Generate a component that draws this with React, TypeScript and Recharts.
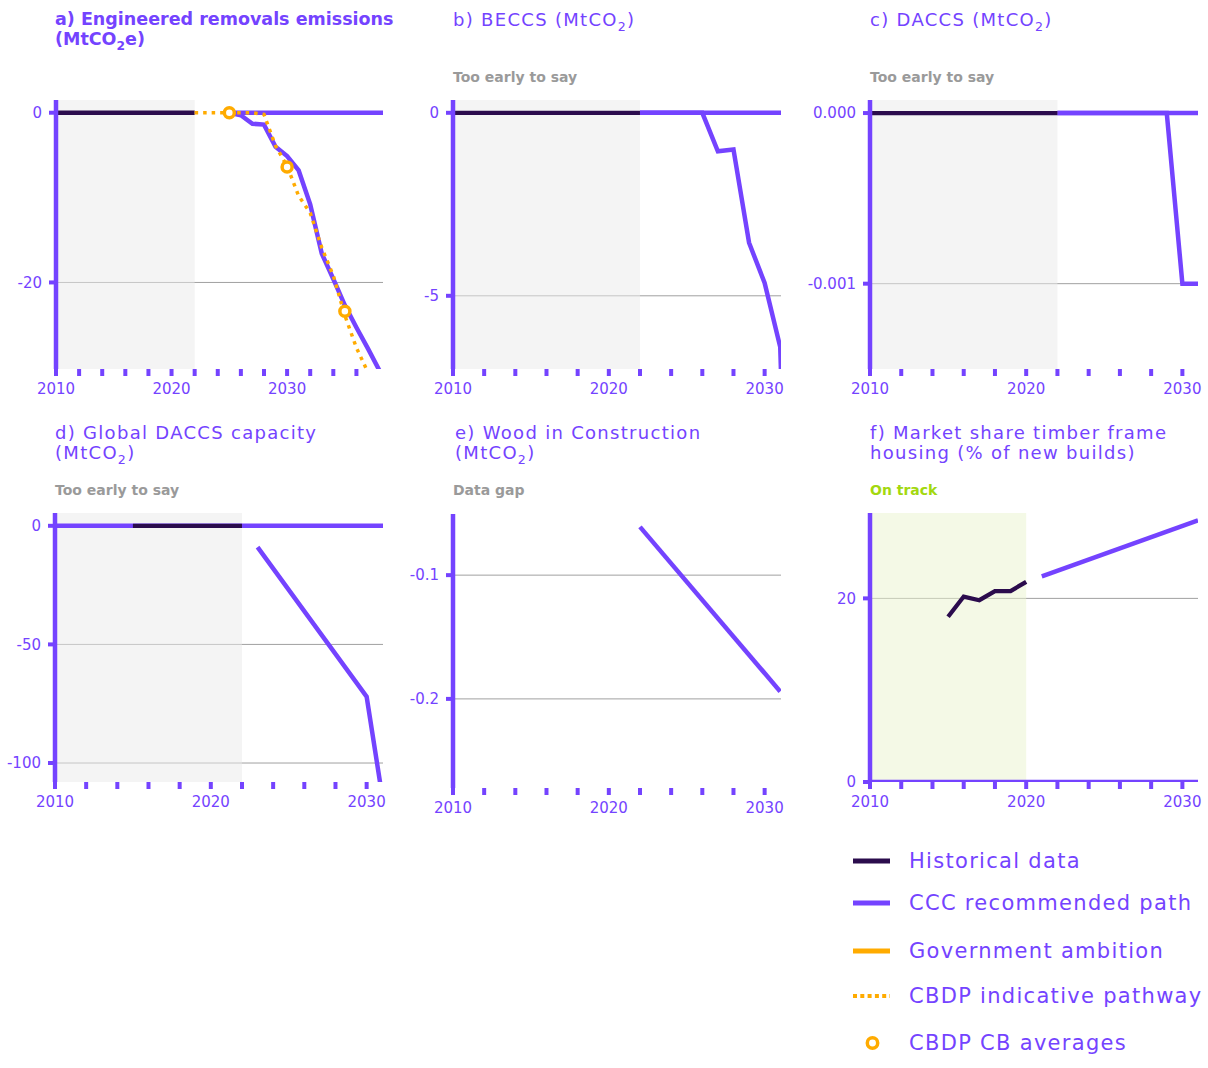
import React from 'react';
import { LineChart, Line, XAxis, YAxis, CartesianGrid, ReferenceArea, ReferenceLine } from 'recharts';

const PURPLE = '#7443ff';
const DARK = '#2b0c4d';
const ORANGE = '#ffab00';
const GREEN = '#a3d80f';
const GREY_TEXT = '#9a9a9a';
const FONT = '"DejaVu Sans", sans-serif';
const Y_W = 72;

type Pt = [number, number];

// a) Engineered removals emissions
const histA: Pt[] = [[2010, 0], [2011, 0], [2012, 0], [2013, 0], [2014, 0], [2015, 0], [2016, 0], [2017, 0], [2018, 0], [2019, 0], [2020, 0], [2021, 0], [2022, 0]];
const cccA: Pt[] = [[2025, 0], [2026, -0.3], [2027, -1.3], [2028, -1.4], [2029, -4], [2030, -5.1], [2031, -6.8], [2032, -10.8], [2033, -16.6], [2034, -19.6], [2035, -22.7], [2036, -25.3], [2037, -27.8], [2038, -30.4]];
const cbdpA: Pt[] = [[2022, 0], [2023, 0], [2024, 0], [2025, 0], [2026, 0], [2027, 0], [2028, -0.2], [2029, -3.9], [2030, -6.3], [2031, -9.8], [2032, -11.8], [2033, -15.9], [2034, -19.2], [2035, -23.9], [2036, -27.7], [2037, -30.6]];
const cbAvgA: Pt[] = [[2025, 0], [2030, -6.4], [2035, -23.4]];

// b) BECCS
const histB: Pt[] = [[2010, 0], [2012, 0], [2014, 0], [2016, 0], [2018, 0], [2020, 0], [2022, 0]];
const cccB: Pt[] = [[2022, 0], [2023, 0], [2024, 0], [2025, 0], [2026, 0], [2027, -1.05], [2028, -1.0], [2029, -3.55], [2030, -4.65], [2031, -6.4], [2032, -20]];

// c) DACCS
const histC: Pt[] = [[2010, 0], [2012, 0], [2014, 0], [2016, 0], [2018, 0], [2020, 0], [2022, 0]];
const cccC: Pt[] = [[2022, 0], [2023, 0], [2024, 0], [2025, 0], [2026, 0], [2027, 0], [2028, 0], [2029, 0], [2030, -0.001], [2031, -0.001]];

// d) Global DACCS capacity
const histD: Pt[] = [[2015, 0], [2016, 0], [2017, 0], [2018, 0], [2019, 0], [2020, 0], [2021, 0], [2022, 0]];
const cccD: Pt[] = [[2023, -9], [2030, -72], [2031, -114]];

// e) Wood in construction
const cccE: Pt[] = [[2022, -0.061], [2031, -0.194]];

// f) Market share timber frame housing
const histF: Pt[] = [[2015, 18], [2016, 20.2], [2017, 19.8], [2018, 20.8], [2019, 20.8], [2020, 21.8]];
const cccF: Pt[] = [[2021, 22.4], [2031, 28.5]];

const ticksTo2030 = [2010, 2012, 2014, 2016, 2018, 2020, 2022, 2024, 2026, 2028, 2030];
const ticksTo2036 = [...ticksTo2030, 2032, 2034, 2036];

function buildRows(series: Record<string, Pt[]>) {
  const map = new Map<number, any>();
  Object.entries(series).forEach(([key, pts]) => {
    pts.forEach(([year, v]) => {
      if (!map.has(year)) map.set(year, { year });
      map.get(year)[key] = v;
    });
  });
  return Array.from(map.values()).sort((a, b) => a.year - b.year);
}

const XTick = (props: any) => {
  const { x, y, payload } = props;
  if (payload.value % 10 !== 0) return <g />;
  return (
    <text x={x} y={y} dy="0.71em" textAnchor="middle" fill={PURPLE} fontSize={15} fontFamily={FONT}>
      {payload.value}
    </text>
  );
};

type PanelProps = {
  left: number; top: number; w: number; h: number;
  xDomain: [number, number]; yDomain: [number, number];
  xTicks: number[]; yTicks: number[];
  yFmt?: (v: number) => string;
  shadeTo?: number; shadeFill?: string;
  zeroFrom?: number;
  series: Record<string, Pt[]>;
};

function Panel(p: PanelProps) {
  const rows = buildRows(p.series);
  const has = (k: string) => k in p.series;
  const gridValues = p.yTicks.filter((v) => v !== 0);
  return (
    <div style={{ position: 'absolute', left: p.left - Y_W, top: p.top - 5 }}>
      <LineChart width={Y_W + p.w + 24} height={5 + p.h + 30} data={rows} margin={{ top: 5, right: 24, bottom: 0, left: 0 }}>
        {p.shadeTo !== undefined && (
          <ReferenceArea x1={p.xDomain[0]} x2={p.shadeTo} fill={p.shadeFill} fillOpacity={0.5} stroke="none" ifOverflow="hidden" />
        )}
        <CartesianGrid horizontal vertical={false} horizontalValues={gridValues} stroke="#a0a0a0" strokeWidth={1} />
        <XAxis
          type="number" dataKey="year" domain={p.xDomain} ticks={p.xTicks} allowDataOverflow
          axisLine={false} tickSize={7} tickMargin={7}
          tickLine={{ stroke: PURPLE, strokeWidth: 4 }} tick={<XTick />} height={30} interval={0}
        />
        <YAxis
          type="number" domain={p.yDomain} ticks={p.yTicks} allowDataOverflow width={Y_W}
          axisLine={{ stroke: PURPLE, strokeWidth: 4.5 }} tickLine={{ stroke: PURPLE, strokeWidth: 4 }}
          tickSize={7} tickMargin={7} interval={0}
          tick={{ fill: PURPLE, fontSize: 15, fontFamily: FONT }}
          tickFormatter={p.yFmt}
        />
        {p.zeroFrom !== undefined && (
          <ReferenceLine
            segment={[{ x: p.zeroFrom, y: 0 }, { x: p.xDomain[1], y: 0 }]}
            stroke={PURPLE} strokeWidth={4.5} ifOverflow="hidden"
          />
        )}
        {has('ccc') && (
          <Line dataKey="ccc" stroke={PURPLE} strokeWidth={4.5} dot={false} activeDot={false} connectNulls isAnimationActive={false} />
        )}
        {has('hist') && (
          <Line dataKey="hist" stroke={DARK} strokeWidth={4.3} dot={false} activeDot={false} connectNulls isAnimationActive={false} />
        )}
        {has('cbdp') && (
          <Line dataKey="cbdp" stroke={ORANGE} strokeWidth={3.5} strokeDasharray="3.5 5" dot={false} activeDot={false} connectNulls isAnimationActive={false} />
        )}
        {has('cbavg') && (
          <Line dataKey="cbavg" stroke="none" dot={{ r: 5, stroke: ORANGE, strokeWidth: 3.5, fill: '#fff' }} activeDot={false} isAnimationActive={false} />
        )}
      </LineChart>
    </div>
  );
}

const Sub = () => <sub style={{ fontSize: '0.7em', lineHeight: 0 }}>2</sub>;

function Title({ x, y, bold, children }: { x: number; y: number; bold?: boolean; children: React.ReactNode }) {
  return (
    <div style={{ position: 'absolute', left: x, top: y, color: PURPLE, fontFamily: FONT, fontSize: bold ? 17.5 : 18, lineHeight: '19.5px', fontWeight: bold ? 700 : 400, letterSpacing: bold ? 0 : 1.3, whiteSpace: 'nowrap' }}>
      {children}
    </div>
  );
}

function Status({ x, y, color, text }: { x: number; y: number; color: string; text: string }) {
  return (
    <div style={{ position: 'absolute', left: x, top: y, color, fontFamily: FONT, fontSize: 14, lineHeight: '16px', fontWeight: 700, whiteSpace: 'nowrap' }}>
      {text}
    </div>
  );
}

const legendItems = [
  { label: 'Historical data', kind: 'hist', cy: 861 },
  { label: 'CCC recommended path', kind: 'ccc', cy: 903 },
  { label: 'Government ambition', kind: 'gov', cy: 951 },
  { label: 'CBDP indicative pathway', kind: 'cbdp', cy: 996 },
  { label: 'CBDP CB averages', kind: 'cbavg', cy: 1043 },
];

function Swatch({ kind }: { kind: string }) {
  return (
    <svg width={40} height={16} style={{ position: 'absolute', left: 0, top: -8 }}>
      {kind === 'hist' && <line x1={0} x2={37} y1={8} y2={8} stroke={DARK} strokeWidth={5} />}
      {kind === 'ccc' && <line x1={0} x2={37} y1={8} y2={8} stroke={PURPLE} strokeWidth={5} />}
      {kind === 'gov' && <line x1={0} x2={37} y1={8} y2={8} stroke={ORANGE} strokeWidth={5} />}
      {kind === 'cbdp' && <line x1={0} x2={37} y1={8} y2={8} stroke={ORANGE} strokeWidth={4} strokeDasharray="4 3.3" />}
      {kind === 'cbavg' && <circle cx={19.5} cy={8} r={5.2} stroke={ORANGE} strokeWidth={3.5} fill="#fff" />}
    </svg>
  );
}

export default function App() {
  return (
    <div style={{ position: 'absolute', left: 0, top: 0, width: 1208, height: 1068, background: '#fff', overflow: 'hidden' }}>
      <Title x={55} y={10} bold>a) Engineered removals emissions<br />(MtCO<Sub />e)</Title>
      <Title x={453} y={10}>b) BECCS (MtCO<Sub />)</Title>
      <Title x={870} y={10}>c) DACCS (MtCO<Sub />)</Title>
      <Title x={55} y={423}>d) Global DACCS capacity<br />(MtCO<Sub />)</Title>
      <Title x={455} y={423}>e) Wood in Construction<br />(MtCO<Sub />)</Title>
      <Title x={870} y={423}>f) Market share timber frame<br />housing (% of new builds)</Title>

      <Status x={453} y={69} color={GREY_TEXT} text="Too early to say" />
      <Status x={870} y={69} color={GREY_TEXT} text="Too early to say" />
      <Status x={55} y={482} color={GREY_TEXT} text="Too early to say" />
      <Status x={453} y={482} color={GREY_TEXT} text="Data gap" />
      <Status x={870} y={482} color={GREEN} text="On track" />

      <Panel left={56} top={100} w={327} h={269} xDomain={[2010, 2038.3]} yDomain={[-30.2, 1.5]}
        xTicks={ticksTo2036} yTicks={[-20, 0]} shadeTo={2022} shadeFill="#e9e9e9" zeroFrom={2025}
        series={{ ccc: cccA, hist: histA, cbdp: cbdpA, cbavg: cbAvgA }} />
      <Panel left={453} top={100} w={328} h={269} xDomain={[2010, 2031.05]} yDomain={[-7, 0.35]}
        xTicks={ticksTo2030} yTicks={[-5, 0]} shadeTo={2022} shadeFill="#e9e9e9" zeroFrom={2022}
        series={{ ccc: cccB, hist: histB }} />
      <Panel left={870} top={100} w={328} h={269} xDomain={[2010, 2031]} yDomain={[-0.0015, 0.0000765]}
        xTicks={ticksTo2030} yTicks={[-0.001, 0]} yFmt={(v) => v.toFixed(3)} shadeTo={2022} shadeFill="#e9e9e9" zeroFrom={2022}
        series={{ ccc: cccC, hist: histC }} />
      <Panel left={55} top={513} w={328} h={269} xDomain={[2010, 2031.05]} yDomain={[-108, 5.4]}
        xTicks={ticksTo2030} yTicks={[-100, -50, 0]} shadeTo={2022} shadeFill="#e9e9e9" zeroFrom={2010}
        series={{ ccc: cccD, hist: histD }} />
      <Panel left={453} top={514} w={328} h={274} xDomain={[2010, 2031.05]} yDomain={[-0.272, -0.0506]}
        xTicks={ticksTo2030} yTicks={[-0.2, -0.1]} yFmt={(v) => v.toFixed(1)}
        series={{ ccc: cccE }} />
      <Panel left={870} top={513} w={328} h={269} xDomain={[2010, 2031]} yDomain={[0, 29.3]}
        xTicks={ticksTo2030} yTicks={[0, 20]} shadeTo={2020} shadeFill="#e9f3cd" zeroFrom={2010}
        series={{ ccc: cccF, hist: histF }} />

      <div style={{ position: 'absolute', left: 853, top: 0 }}>
        {legendItems.map((it) => (
          <div key={it.label} style={{ position: 'absolute', left: 0, top: it.cy }}>
            <Swatch kind={it.kind} />
            <div style={{ position: 'absolute', left: 56, top: -13, color: PURPLE, fontFamily: FONT, fontSize: 21, lineHeight: '26px', letterSpacing: 1.3, whiteSpace: 'nowrap' }}>
              {it.label}
            </div>
          </div>
        ))}
      </div>
    </div>
  );
}
